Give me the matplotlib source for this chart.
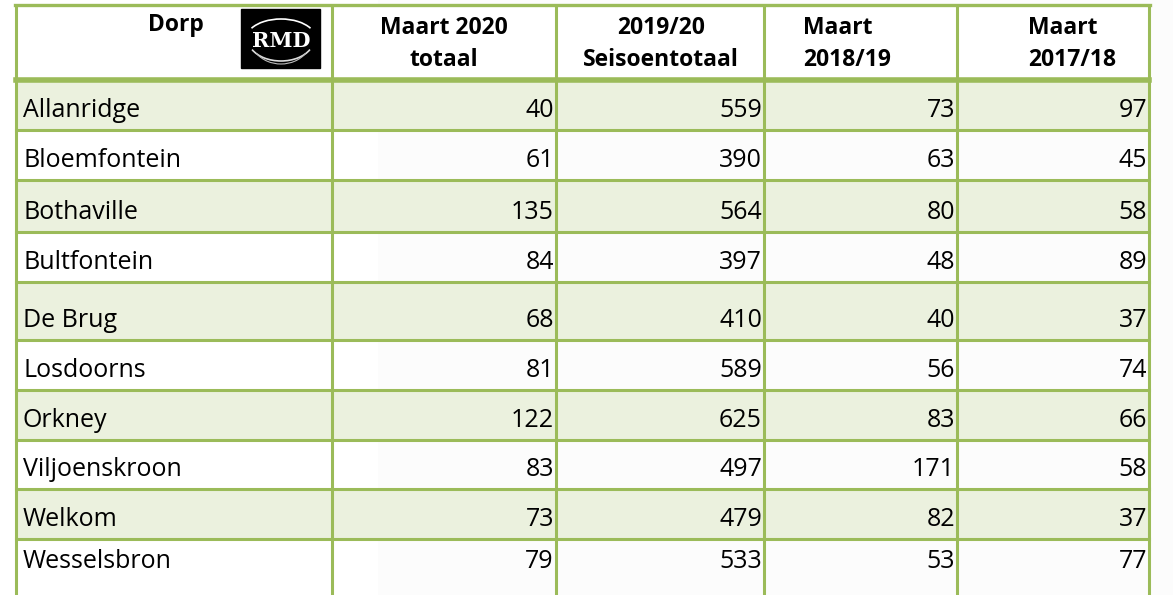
import matplotlib
matplotlib.use("Agg")
import matplotlib.pyplot as plt
from matplotlib.patches import Rectangle, Arc

# ---- data ----
towns = ["Allanridge", "Bloemfontein", "Bothaville", "Bultfontein", "De Brug",
         "Losdoorns", "Orkney", "Viljoenskroon", "Welkom", "Wesselsbron"]
maart_2020 = [40, 61, 135, 84, 68, 81, 122, 83, 73, 79]
seisoen_2019_20 = [559, 390, 564, 397, 410, 589, 625, 497, 479, 533]
maart_2018_19 = [73, 63, 80, 48, 40, 56, 83, 171, 82, 53]
maart_2017_18 = [97, 45, 58, 89, 37, 74, 66, 58, 37, 77]
headers = ["Dorp", "Maart 2020\ntotaal", "2019/20\nSeisoentotaal", "Maart\n2018/19", "Maart\n2017/18"]

# ---- layout (pixel coordinates) ----
W, H = 1173, 595
col_edges = [16, 332, 556, 764, 957, 1149]
row_edges = [5, 80, 130, 180, 232, 282, 340, 390, 440, 489, 539, 600]
green = "#9BBB59"
fill = "#EBF1DE"
FONT = "Open Sans"

fig = plt.figure(figsize=(W / 100, H / 100), dpi=100)
ax = fig.add_axes([0, 0, 1, 1])
ax.set_xlim(0, W)
ax.set_ylim(H, 0)
ax.axis("off")

# faint watermark background
ax.add_patch(Rectangle((378, 0), W - 378, H, color="#fcfcfc", zorder=0, lw=0))
for (cx, cy, r, lw) in [(1320, -120, 700, 26), (1320, -120, 770, 18), (1320, -120, 630, 14)]:
    ax.add_patch(Arc((cx, cy), 2 * r, 2 * r, theta1=200, theta2=272, color="#c8c8c8",
                     alpha=0.25, lw=lw, zorder=2))

# row fills
for i in range(len(towns)):
    y0, y1 = row_edges[i + 1], row_edges[i + 2]
    if i % 2 == 0:
        ax.add_patch(Rectangle((col_edges[0], y0), col_edges[-1] - col_edges[0], y1 - y0,
                               color=fill, lw=0, zorder=1))
ax.add_patch(Rectangle((col_edges[0], row_edges[0]), col_edges[-1] - col_edges[0],
                       row_edges[1] - row_edges[0], color="white", lw=0, zorder=1))

# grid lines
for x in col_edges:
    ax.plot([x, x], [row_edges[0], H + 5], color=green, lw=2.2, zorder=3, solid_capstyle="butt")
ax.plot([col_edges[0] - 1, col_edges[-1] + 1], [row_edges[0], row_edges[0]], color=green, lw=2.4, zorder=3)
ax.plot([col_edges[0], col_edges[-1]], [row_edges[1], row_edges[1]], color=green, lw=4.0, zorder=3)
for y in row_edges[2:-1]:
    ax.plot([col_edges[0], col_edges[-1]], [y, y], color=green, lw=2.2, zorder=3)

# headers (baseline of the last line)
hfs = 16.5
hb = 66
ls = 1.42
ax.text(176, 31, headers[0], ha="center", va="baseline", fontsize=hfs, fontweight="bold",
        family=FONT, zorder=4)
ax.text(444, hb, headers[1], ha="center", va="baseline", fontsize=hfs, fontweight="bold",
        family=FONT, zorder=4, multialignment="center", linespacing=ls)
ax.text(661, hb, headers[2], ha="center", va="baseline", fontsize=hfs, fontweight="bold",
        family=FONT, zorder=4, multialignment="center", linespacing=ls)
ax.text(803, hb, headers[3], ha="left", va="baseline", fontsize=hfs, fontweight="bold",
        family=FONT, zorder=4, multialignment="left", linespacing=ls)
ax.text(1028, hb, headers[4], ha="left", va="baseline", fontsize=hfs, fontweight="bold",
        family=FONT, zorder=4, multialignment="left", linespacing=ls)

# logo
ax.add_patch(Rectangle((241, 9), 79, 59, color="black", zorder=4))
ax.add_patch(Arc((281, 39), 70, 40, theta1=200, theta2=340, color="white", lw=1.2, zorder=5))
ax.add_patch(Arc((281, 39), 66, 44, theta1=20, theta2=160, color="#dddddd", lw=1.2, zorder=5))
ax.add_patch(Arc((281, 39), 60, 50, theta1=30, theta2=150, color="#bbbbbb", lw=0.8, zorder=5))
ax.text(281, 47, "RMD", ha="center", va="baseline", fontsize=15, fontweight="bold",
        family="DejaVu Serif", color="white", zorder=6)

# body
bfs = 18
cols = [maart_2020, seisoen_2019_20, maart_2018_19, maart_2017_18]
for i, town in enumerate(towns):
    bottom = row_edges[i + 2]
    base = bottom - 13 if i < len(towns) - 1 else row_edges[i + 1] + 29
    ax.text(23, base, town, ha="left", va="baseline", fontsize=bfs, family=FONT, zorder=4)
    for j, col in enumerate(cols):
        ax.text(col_edges[j + 2] - 2, base, str(col[i]), ha="right", va="baseline",
                fontsize=bfs, family=FONT, zorder=4)

fig.savefig("out.png", dpi=100)
